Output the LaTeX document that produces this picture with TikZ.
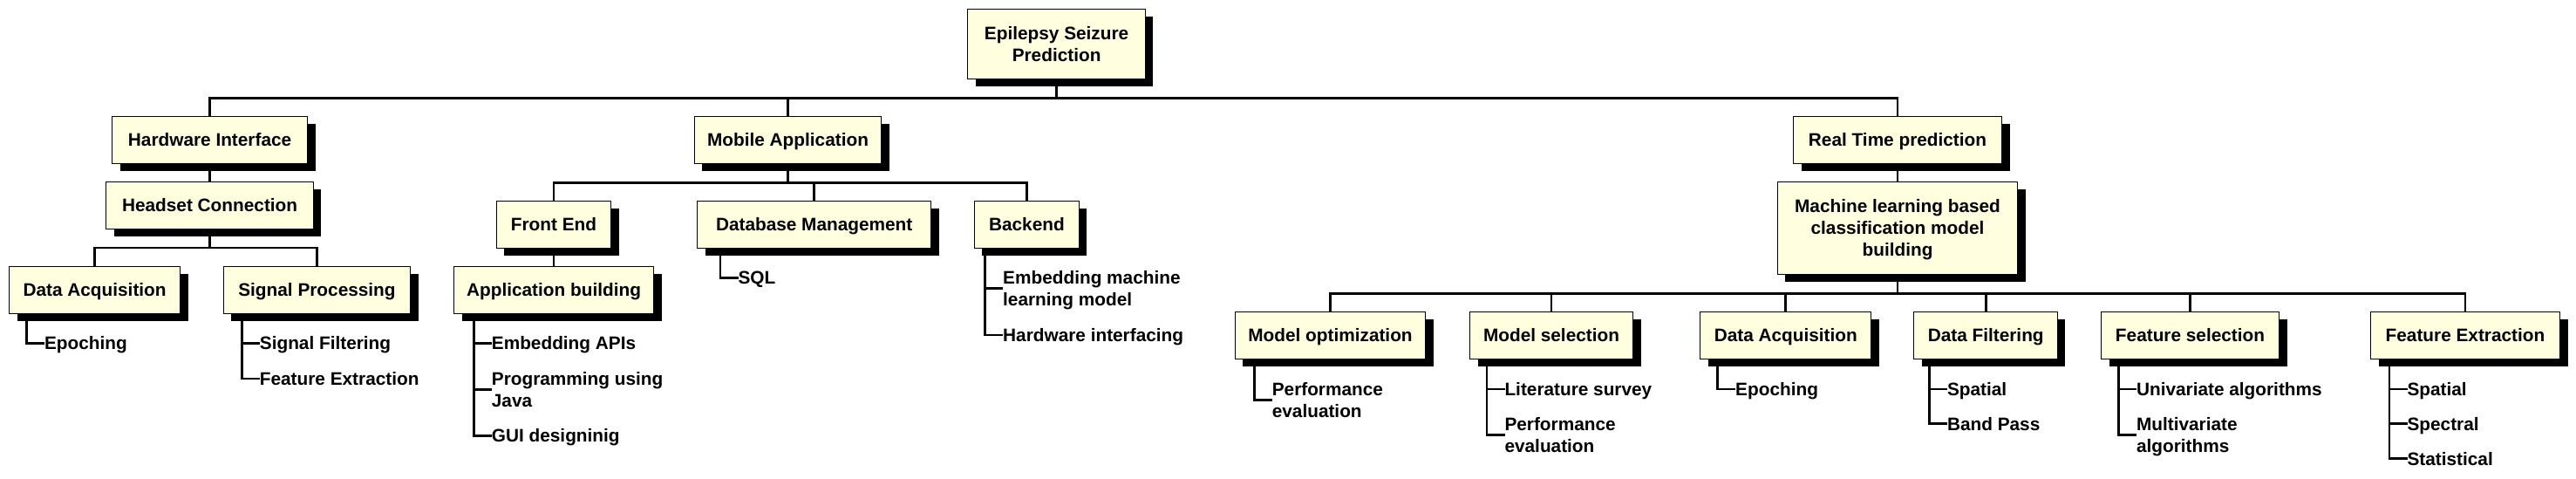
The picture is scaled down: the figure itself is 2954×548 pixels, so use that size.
\documentclass[tikz,border=0pt]{standalone}
\usepackage{fontspec}
\setmainfont{Liberation Sans}
\usetikzlibrary{shadows}
\pgfdeclarelayer{background}
\pgfsetlayers{background,main}
\definecolor{boxfill}{RGB}{255,255,224}
\newcommand\mystrut{\rule[-2.57pt]{0pt}{12.6pt}}
\begin{document}
\begin{tikzpicture}[x=0.5pt,y=-0.5pt,
  every node/.style={font=\fontsize{10.4pt}{12.6pt}\selectfont\bfseries},
  tbox/.style={draw=black, line width=0.5pt, fill=boxfill, anchor=north,
    inner sep=0pt, outer sep=0pt, align=center, minimum height=27pt,
    drop shadow={shadow xshift=4.5pt, shadow yshift=-4.5pt, fill=black, opacity=1}},
  boxw/.style={minimum width={#1*0.5pt}},
  leaf/.style={anchor=west, inner sep=0pt, outer sep=0pt, align=left},
  conn/.style={draw=black, line width=1.4pt, line join=miter}]
\useasboundingbox (0,0) rectangle (2954,548);

% ---- boxes ----
\node[tbox, boxw=203.7, minimum height=40pt] (root) at (1211.6,10.3) {\mystrut Epilepsy Seizure\\\mystrut Prediction};
\node[tbox, boxw=223.8] (hw) at (240.6,133.3) {\mystrut Hardware Interface};
\node[tbox, boxw=237.3] (headset) at (240.6,208.3) {\mystrut Headset Connection};
\node[tbox, boxw=196.1] (da1) at (108.6,305.3) {\mystrut Data Acquisition};
\node[tbox, boxw=214.3] (sp) at (363.5,305.3) {\mystrut Signal Processing};
\node[tbox, boxw=214.3] (mobile) at (903.5,133.3) {\mystrut Mobile Application};
\node[tbox, boxw=131.5] (frontend) at (635,230) {\mystrut Front End};
\node[tbox, boxw=229] (appb) at (635,305.3) {\mystrut Application building};
\node[tbox, boxw=267.9] (db) at (933.7,230) {\mystrut Database Management};
\node[tbox, boxw=120.1] (backend) at (1177.4,230) {\mystrut Backend};
\node[tbox, boxw=239] (rt) at (2176,133.3) {\mystrut Real Time prediction};
\node[tbox, boxw=275.3, minimum height=53pt] (ml) at (2176,208.3) {\mystrut Machine learning based\\\mystrut classification model\\\mystrut building};
\node[tbox, boxw=218.9] (mo) at (1525.5,357.3) {\mystrut Model optimization};
\node[tbox, boxw=187] (ms) at (1779,357.3) {\mystrut Model selection};
\node[tbox, boxw=196] (da2) at (2047.8,357.3) {\mystrut Data Acquisition};
\node[tbox, boxw=164.5] (df) at (2277.2,357.3) {\mystrut Data Filtering};
\node[tbox, boxw=204] (fs) at (2511.5,357.3) {\mystrut Feature selection};
\node[tbox, boxw=217] (fe) at (2827,357.3) {\mystrut Feature Extraction};

% ---- list items ----
\node[leaf] (da1a) at (51,393.3) {\mystrut Epoching};
\node[leaf] (spa) at (297.9,393.3) {\mystrut Signal Filtering};
\node[leaf] (spb) at (297.9,434) {\mystrut Feature Extraction};
\node[leaf] (aba) at (563.9,393.3) {\mystrut Embedding APIs};
\node[leaf] (abb) at (563.9,446.7) {\mystrut Programming using\\\mystrut Java};
\node[leaf] (abc) at (563.9,499.3) {\mystrut GUI designinig};
\node[leaf] (dba) at (846.5,318.3) {\mystrut SQL};
\node[leaf] (bea) at (1150.2,330.7) {\mystrut Embedding machine\\\mystrut learning model};
\node[leaf] (beb) at (1150.2,384) {\mystrut Hardware interfacing};
\node[leaf] (moa) at (1458.8,458.3) {\mystrut Performance\\\mystrut evaluation};
\node[leaf] (msa) at (1725.5,446) {\mystrut Literature survey};
\node[leaf] (msb) at (1725.5,498.3) {\mystrut Performance\\\mystrut evaluation};
\node[leaf] (dab) at (1990.2,446) {\mystrut Epoching};
\node[leaf] (dfa) at (2233,446) {\mystrut Spatial};
\node[leaf] (dfb) at (2233,485.7) {\mystrut Band Pass};
\node[leaf] (fsa) at (2450,446) {\mystrut Univariate algorithms};
\node[leaf] (fsb) at (2450,498.3) {\mystrut Multivariate\\\mystrut algorithms};
\node[leaf] (fea) at (2760.5,446) {\mystrut Spatial};
\node[leaf] (feb) at (2760.5,485.7) {\mystrut Spectral};
\node[leaf] (fec) at (2760.5,525.7) {\mystrut Statistical};

% ---- bus and list-line coordinates ----
\coordinate (topbus) at (0,112.3);
\coordinate (hsbus) at (0,284);
\coordinate (mbus) at (0,209.3);
\coordinate (mlbus) at (0,336.3);
\coordinate (da1L) at (30.5,0);
\coordinate (spL) at (277.4,0);
\coordinate (abL) at (543.4,0);
\coordinate (dbL) at (826,0);
\coordinate (beL) at (1129.7,0);
\coordinate (moL) at (1438.3,0);
\coordinate (msL) at (1705,0);
\coordinate (da2L) at (1969.7,0);
\coordinate (dfL) at (2212.5,0);
\coordinate (fsL) at (2429.5,0);
\coordinate (feL) at (2740,0);

\begin{pgfonlayer}{background}
% tree connectors
\draw[conn] (hw.north) |- (topbus -| rt.north) -- (rt.north);
\draw[conn] (root.south) -- (root.south |- topbus);
\draw[conn] (mobile.north) -- (mobile.north |- topbus);
\draw[conn] (hw.south) -- (headset.north);
\draw[conn] (da1.north) |- (hsbus -| sp.north) -- (sp.north);
\draw[conn] (headset.south) -- (headset.south |- hsbus);
\draw[conn] (frontend.north) |- (mbus -| backend.north) -- (backend.north);
\draw[conn] (mobile.south) -- (mobile.south |- mbus);
\draw[conn] (db.north) -- (db.north |- mbus);
\draw[conn] (frontend.south) -- (appb.north);
\draw[conn] (rt.south) -- (ml.north);
\draw[conn] (mo.north) |- (mlbus -| fe.north) -- (fe.north);
\draw[conn] (ml.south) -- (ml.south |- mlbus);
\foreach \n in {ms,da2,df,fs}{\draw[conn] (\n.north) -- (\n.north |- mlbus);}
% list lines
\draw[conn] (da1.south -| da1L) |- (da1a.west);
\draw[conn] (sp.south -| spL) |- (spb.west) (spL |- spa.west) -- (spa.west);
\draw[conn] (appb.south -| abL) |- (abc.west) (abL |- aba.west) -- (aba.west) (abL |- abb.west) -- (abb.west);
\draw[conn] (db.south -| dbL) |- (dba.west);
\draw[conn] (backend.south -| beL) |- (beb.west) (beL |- bea.west) -- (bea.west);
\draw[conn] (mo.south -| moL) |- (moa.west);
\draw[conn] (ms.south -| msL) |- (msb.west) (msL |- msa.west) -- (msa.west);
\draw[conn] (da2.south -| da2L) |- (dab.west);
\draw[conn] (df.south -| dfL) |- (dfb.west) (dfL |- dfa.west) -- (dfa.west);
\draw[conn] (fs.south -| fsL) |- (fsb.west) (fsL |- fsa.west) -- (fsa.west);
\draw[conn] (fe.south -| feL) |- (fec.west) (feL |- fea.west) -- (fea.west) (feL |- feb.west) -- (feb.west);
\end{pgfonlayer}
\end{tikzpicture}
\end{document}
